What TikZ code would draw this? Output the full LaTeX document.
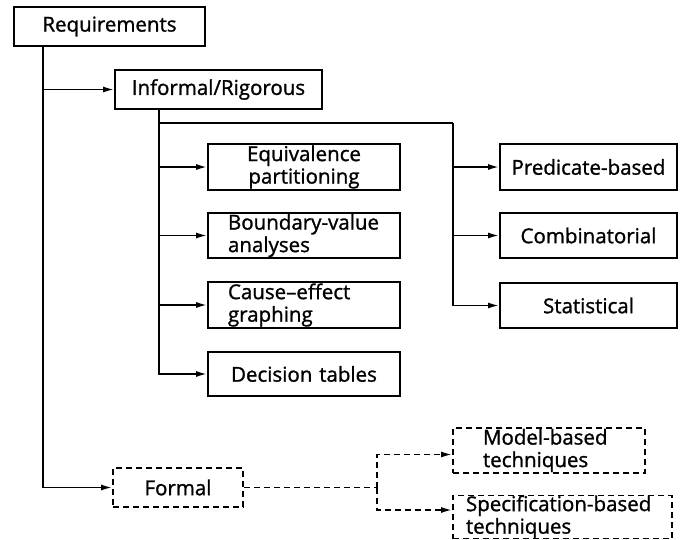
\documentclass[tikz,border=0pt]{standalone}
\usepackage{fontspec}
\setmainfont{Open Sans}
\newfontfamily\bxfont{Open Sans}[FakeBold=1.2,Ligatures=TeX]
\usetikzlibrary{arrows.meta}
\begin{document}
\begin{tikzpicture}[x=1pt,y=-1pt,
  bx/.style={draw, line width=1.8pt, inner xsep=6pt, inner ysep=0pt,
    font=\bxfont\fontsize{20.5}{22.5}\selectfont},
  dbx/.style={bx, dash pattern=on 6pt off 4pt},
  ln/.style={line width=1.8pt},
  arr/.style={ln, -{Latex[length=11pt,width=6pt]}},
  darr/.style={arr, dash pattern=on 6pt off 4pt},
]
\useasboundingbox (0,0) rectangle (681,539);
% boxes
\node[bx, text width=179pt, minimum height=39pt, align=center] (req) at (109.5,26.5) {Requirements};
\node[bx, text width=195pt, minimum height=39pt, align=center] (inf) at (218.5,89.5) {Informal/Rigorous};
\node[bx, text width=180pt, minimum height=46pt, align=center] (eq) at (304,167) {Equivalence\\partitioning};
\node[bx, text width=180pt, minimum height=45pt, align=left] (bv) at (304,235.5) {\hspace*{14pt}Boundary-value\\\hspace*{14pt}analyses};
\node[bx, text width=180pt, minimum height=46pt, align=left] (ce) at (304,305) {\hspace*{14pt}Cause–effect\\\hspace*{14pt}graphing};
\node[bx, text width=180pt, minimum height=44pt, align=center] (dt) at (304,374) {Decision tables};
\node[bx, text width=165pt, minimum height=46pt, align=center] (pb) at (588.5,167) {Predicate-based};
\node[bx, text width=165pt, minimum height=45pt, align=center] (comb) at (588.5,235.5) {Combinatorial};
\node[bx, text width=165pt, minimum height=45pt, align=center] (stat) at (588.5,305.5) {Statistical};
\node[dbx, text width=118pt, minimum height=39pt, align=center] (formal) at (178,487.5) {Formal};
\node[dbx, text width=180pt, minimum height=45pt, align=left] (model) at (549,450.5) {\hspace*{24pt}Model-based\\\hspace*{24pt}techniques};
\node[dbx, text width=207pt, minimum height=43pt, align=left] (spec) at (562.5,517) {\hspace*{7pt}Specification-based\\\hspace*{7pt}techniques};
% junctions
\coordinate (rt) at (43,46);
\coordinate (it) at (159,109);
\coordinate (hb) at (159,123);
\coordinate (rj) at (453,123);
\coordinate (fj) at (377,487.5);
% connectors
\draw[arr] (rt) |- (inf.west);
\draw[arr] (rt) |- (formal.west);
\draw[arr] (it) |- (eq.west);
\draw[arr] (it) |- (bv.west);
\draw[arr] (it) |- (ce.west);
\draw[arr] (it) |- (dt.west);
\draw[ln] (hb) -- (rj);
\draw[arr] (rj) |- (pb.west);
\draw[arr] (rj) |- (comb.west);
\draw[arr] (rj) |- (stat.west);
\draw[ln, dash pattern=on 6pt off 4pt] (formal.east) -- (fj);
\draw[darr] (fj) |- ([yshift=-4pt]model.west);
\draw[darr] (fj) |- ([yshift=7pt]spec.west);
\end{tikzpicture}
\end{document}
